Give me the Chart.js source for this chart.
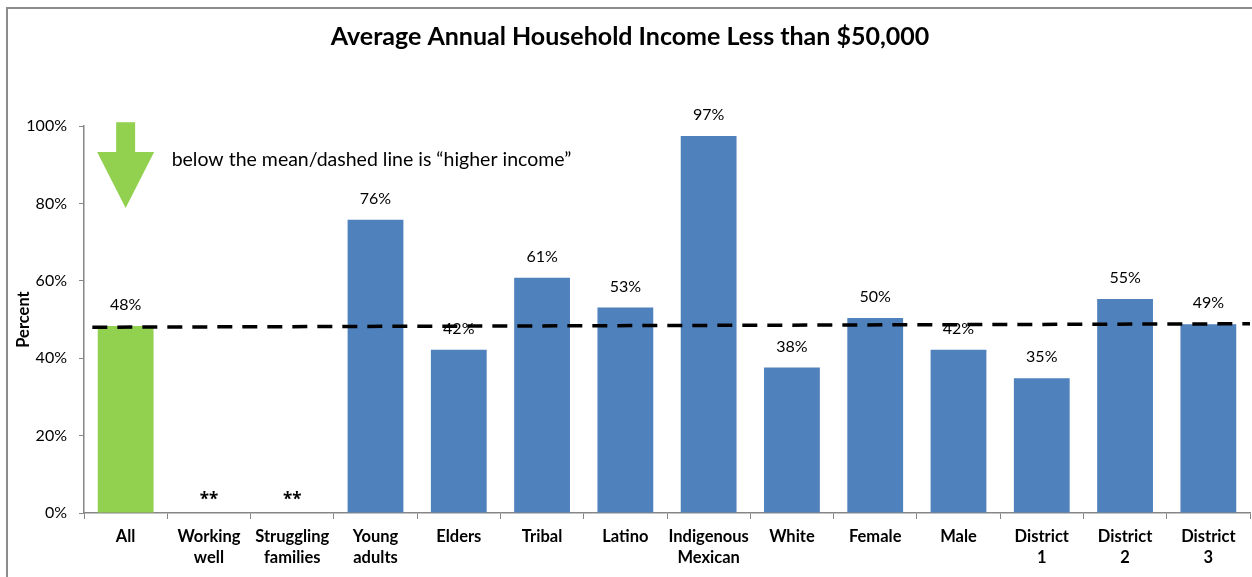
<!DOCTYPE html>
<html>
<head>
<meta charset="utf-8">
<script src="https://cdn.jsdelivr.net/npm/chart.js@4.4.1/dist/chart.umd.min.js"></script>
<style>
    html, body { margin: 0; padding: 0; background: #ffffff; }
    #wrap { width: 1252px; height: 577px; position: relative; }
</style>
</head>
<body>
<div id="wrap"><canvas id="incomeChart"></canvas></div>
<script>
// DATA
const categories = [
    "All", ["Working", "well"], ["Struggling", "families"], ["Young", "adults"],
    "Elders", "Tribal", "Latino", ["Indigenous", "Mexican"], "White",
    "Female", "Male", ["District", "1"], ["District", "2"], ["District", "3"]
];
const percentValues = [48.3, 0, 0, 75.8, 42.2, 60.8, 53.1, 97.4, 37.6, 50.4, 42.2, 34.8, 55.3, 48.8];
const valueLabels = ["48%", "**", "**", "76%", "42%", "61%", "53%", "97%", "38%", "50%", "42%", "35%", "55%", "49%"];
const barColors = ["#92D050", "#4F81BD", "#4F81BD", "#4F81BD", "#4F81BD", "#4F81BD", "#4F81BD",
    "#4F81BD", "#4F81BD", "#4F81BD", "#4F81BD", "#4F81BD", "#4F81BD", "#4F81BD"];
const meanLine = [{ x: -0.4, y: 48.0 }, { x: 13.5, y: 48.9 }];
const yTicks = [0, 20, 40, 60, 80, 100];

const FONT = "Lato, 'Open Sans', sans-serif";

/* -------------------------
   PLUGINS
--------------------------*/

const framePlugin = {
    id: "frame",
    beforeDraw(chart) {
        const ctx = chart.ctx;
        ctx.save();
        ctx.strokeStyle = "#8c8c8c";
        ctx.lineWidth = 2;
        ctx.beginPath();
        ctx.moveTo(7, chart.height);
        ctx.lineTo(7, 8);
        ctx.lineTo(chart.width, 8);
        ctx.stroke();
        ctx.restore();
    }
};

const barLabelPlugin = {
    id: "barLabels",
    afterDatasetDraw(chart, args) {
        if (args.index !== 0) return;
        const ctx = chart.ctx;
        const meta = chart.getDatasetMeta(0);
        ctx.save();
        ctx.fillStyle = "#000000";
        ctx.textAlign = "center";
        ctx.textBaseline = "middle";
        meta.data.forEach((bar, i) => {
            const stars = valueLabels[i] === "**";
            ctx.font = stars ? "bold 17px 'Open Sans', sans-serif" : "16px " + FONT;
            ctx.fillText(valueLabels[i], bar.x, bar.y - (stars ? 13 : 21));
        });
        ctx.restore();
    }
};

const arrowPlugin = {
    id: "arrowNote",
    afterDraw(chart) {
        const ctx = chart.ctx;
        const x = chart.scales.x;
        const y = chart.scales.y;
        const cx = x.getPixelForValue(0);
        const top = y.getPixelForValue(101);
        const neck = y.getPixelForValue(93.3);
        const tip = y.getPixelForValue(78.8);
        ctx.save();
        ctx.fillStyle = "#92D050";
        ctx.beginPath();
        ctx.moveTo(cx - 9.5, top);
        ctx.lineTo(cx + 9.5, top);
        ctx.lineTo(cx + 9.5, neck);
        ctx.lineTo(cx + 28.5, neck);
        ctx.lineTo(cx, tip);
        ctx.lineTo(cx - 28.5, neck);
        ctx.lineTo(cx - 9.5, neck);
        ctx.closePath();
        ctx.fill();

        ctx.fillStyle = "#000000";
        ctx.font = "19.5px " + FONT;
        ctx.textAlign = "left";
        ctx.textBaseline = "middle";
        ctx.fillText("below the mean/dashed line is \u201Chigher income\u201D", cx + 46, y.getPixelForValue(91.2));
        ctx.restore();
    }
};

/* -------------------------
   CHART
--------------------------*/

new Chart(document.getElementById("incomeChart"), {
    type: "bar",
    data: {
        labels: categories,
        datasets: [{
            label: "Percent",
            data: percentValues,
            backgroundColor: barColors,
            categoryPercentage: 1,
            barPercentage: 0.67,
            grouped: false,
            order: 2
        }, {
            type: "line",
            label: "Mean",
            data: meanLine,
            xAxisID: "xLine",
            borderColor: "#000000",
            borderWidth: 3.5,
            borderDash: [15, 10],
            pointRadius: 0,
            fill: false,
            order: 1
        }]
    },
    options: {
        responsive: true,
        maintainAspectRatio: false,
        animation: false,
        layout: { padding: { left: 10, right: 2, top: 0, bottom: 0 } },
        plugins: {
            legend: { display: false },
            tooltip: { enabled: false },
            title: {
                display: true,
                text: "Average Annual Household Income Less than $50,000",
                color: "#000000",
                font: { family: FONT, size: 25, weight: "bold", lineHeight: 1.2 },
                padding: { top: 22, bottom: 74 }
            }
        },
        scales: {
            x: {
                grid: {
                    offset: true,
                    drawOnChartArea: false,
                    color: "#868686",
                    tickLength: 6
                },
                border: { color: "#868686", width: 1.5 },
                ticks: {
                    color: "#000000",
                    maxRotation: 0,
                    autoSkip: false,
                    padding: 7,
                    font: { family: FONT, size: 16.5, weight: "bold", lineHeight: 1.27 }
                },
                afterFit(scale) { scale.height = 577 - 513; }
            },
            xLine: {
                type: "linear",
                display: false,
                offset: false,
                min: -0.5,
                max: 13.5
            },
            y: {
                min: 0,
                max: 100,
                afterBuildTicks(scale) {
                    scale.ticks = yTicks.map(v => ({ value: v }));
                },
                grid: {
                    drawOnChartArea: false,
                    color: "#868686",
                    tickLength: 5
                },
                border: { color: "#868686", width: 1.5 },
                ticks: {
                    color: "#000000",
                    padding: 12,
                    font: { family: FONT, size: 16 },
                    callback: v => v + "%"
                },
                title: {
                    display: true,
                    text: "Percent",
                    color: "#000000",
                    padding: { top: 4, bottom: 0 },
                    font: { family: FONT, size: 16.5, weight: "bold" }
                },
                afterFit(scale) { scale.width = 84 - 10; }
            }
        }
    },
    plugins: [framePlugin, barLabelPlugin, arrowPlugin]
});
</script>
</body>
</html>
